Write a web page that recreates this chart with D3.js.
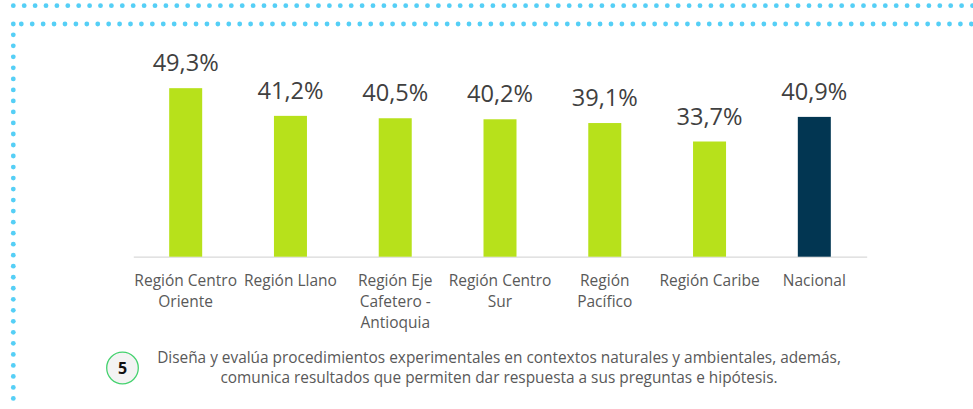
<!DOCTYPE html>
<html>
<head>
<meta charset="utf-8">
<script src="https://cdn.jsdelivr.net/npm/d3@7"></script>
<style>
  html, body { margin: 0; padding: 0; background: #fff; }
  svg { display: block; }
</style>
</head>
<body>
<svg id="chart" width="973" height="409"></svg>
<script>
const categories = ["Región Centro Oriente", "Región Llano", "Región Eje Cafetero - Antioquia", "Región Centro Sur", "Región Pacífico", "Región Caribe", "Nacional"];
const labelLines = [["Región Centro", "Oriente"], ["Región Llano"], ["Región Eje", "Cafetero -", "Antioquia"], ["Región Centro", "Sur"], ["Región", "Pacífico"], ["Región Caribe"], ["Nacional"]];
const values = [49.3, 41.2, 40.5, 40.2, 39.1, 33.7, 40.9];
const valueLabels = ["49,3%", "41,2%", "40,5%", "40,2%", "39,1%", "33,7%", "40,9%"];
const barColors = ["#b7e11b", "#b7e11b", "#b7e11b", "#b7e11b", "#b7e11b", "#b7e11b", "#023652"];
const footerNumber = "5";
const footerLines = ["Diseña y evalúa procedimientos experimentales en contextos naturales y ambientales, además,",
                     "comunica resultados que permiten dar respuesta a sus preguntas e hipótesis."];

const svg = d3.select("#chart");
const font = "'Open Sans', Lato, sans-serif";

// decorative dotted frame
const dotColor = "#55cff6";
const dots = [];
d3.range(13.3, 975, 10.9).forEach(x => dots.push([x, 5.7]));
dots.push([13.3, 24]);
d3.range(21.3, 975, 10.92).forEach(x => dots.push([x, 24]));
d3.range(34.8, 406, 11.02).forEach(y => dots.push([13.3, y]));
svg.append("g").selectAll("circle").data(dots).join("circle")
  .attr("cx", d => d[0]).attr("cy", d => d[1]).attr("r", 2.4).attr("fill", dotColor);

const x = d3.scaleBand().domain(categories).range([133.3, 866.7]).paddingInner(0.685).paddingOuter(0.3425);
const y = d3.scaleLinear().domain([0, 60]).range([256.7, 51.6]);

// baseline axis
const axis = d3.axisBottom(x).tickSize(0).tickFormat("");
const ax = svg.append("g").attr("transform", `translate(0,${y(0)})`).call(axis);
ax.select(".domain").attr("stroke", "#d9d9d9").attr("stroke-width", 1.3);

svg.append("g").selectAll("rect").data(values).join("rect")
  .attr("x", (d, i) => x(categories[i]))
  .attr("width", x.bandwidth())
  .attr("y", d => y(d))
  .attr("height", d => y(0) - y(d))
  .attr("fill", (d, i) => barColors[i]);

svg.append("g").selectAll("text").data(values).join("text")
  .attr("x", (d, i) => x(categories[i]) + x.bandwidth() / 2)
  .attr("y", d => y(d) - 17)
  .attr("text-anchor", "middle")
  .attr("font-family", font)
  .attr("font-size", 23.6)
  .attr("fill", "#404040")
  .text((d, i) => valueLabels[i]);

const lab = svg.append("g").selectAll("text").data(categories).join("text")
  .attr("text-anchor", "middle")
  .attr("font-family", font)
  .attr("font-size", 15.5)
  .attr("fill", "#595959");
lab.each(function(c, i) {
  const t = d3.select(this);
  labelLines[i].forEach((line, j) => {
    t.append("tspan")
      .attr("x", x(c) + x.bandwidth() / 2)
      .attr("y", 285.7 + j * 21)
      .text(line);
  });
});

// footer
svg.append("circle").attr("cx", 122.5).attr("cy", 368).attr("r", 15.8)
  .attr("fill", "#f3f3f3").attr("stroke", "#45d26f").attr("stroke-width", 1.3);
svg.append("text").attr("x", 122.5).attr("y", 374).attr("text-anchor", "middle")
  .attr("font-family", font).attr("font-weight", "bold").attr("font-size", 16).attr("fill", "#111")
  .text(footerNumber);
svg.append("g").selectAll("text").data(footerLines).join("text")
  .attr("x", 499).attr("y", (d, i) => 363.3 + i * 20)
  .attr("text-anchor", "middle")
  .attr("font-family", font).attr("font-size", 15.4).attr("fill", "#595959")
  .text(d => d);
</script>
</body>
</html>
